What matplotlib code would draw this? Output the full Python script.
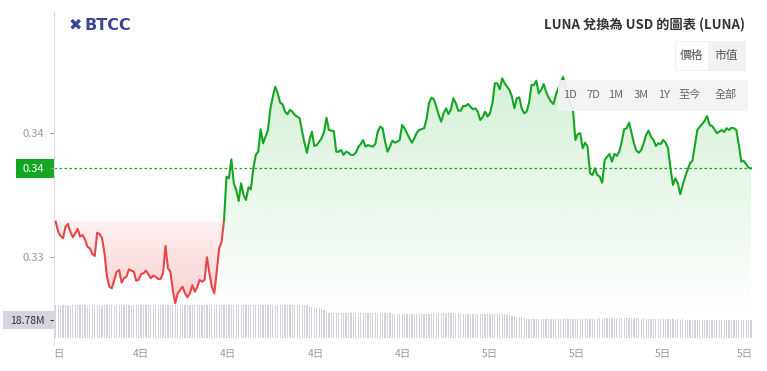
import numpy as np
import matplotlib
matplotlib.use("Agg")
import matplotlib.pyplot as plt
from matplotlib.patches import Rectangle, Polygon
from matplotlib.colors import to_rgb
from matplotlib.transforms import blended_transform_factory

plt.rcParams['font.family'] = ['Noto Sans CJK TC', 'DejaVu Sans']

# price series (USD), oldest first
prices = [
    0.33285, 0.33204, 0.33169, 0.33151, 0.33244, 0.33266, 0.33204, 0.33159, 0.33191, 0.33226,
    0.33164, 0.33177, 0.33143, 0.33083, 0.33070, 0.33024, 0.33008, 0.33196, 0.33185, 0.33151,
    0.33030, 0.32841, 0.32760, 0.32748, 0.32815, 0.32881, 0.32895, 0.32793, 0.32828, 0.32841,
    0.32901, 0.32890, 0.32881, 0.32809, 0.32815, 0.32863, 0.32869, 0.32890, 0.32860, 0.32828,
    0.32849, 0.32841, 0.32823, 0.32823, 0.32869, 0.33089, 0.32909, 0.32881, 0.32734, 0.32627,
    0.32707, 0.32734, 0.32760, 0.32707, 0.32675, 0.32707, 0.32774, 0.32720, 0.32756, 0.32815,
    0.32801, 0.32815, 0.32998, 0.32869, 0.32760, 0.32707, 0.32881, 0.33070, 0.33123,
    0.33298, 0.33648, 0.33635, 0.33788, 0.33594, 0.33540, 0.33452, 0.33594, 0.33500, 0.33460,
    0.33562, 0.33546, 0.33715, 0.33823, 0.33849, 0.34030, 0.33917, 0.33970, 0.34024, 0.34199,
    0.34293, 0.34373, 0.34320, 0.34244, 0.34232, 0.34172, 0.34151, 0.34186, 0.34172, 0.34145,
    0.34132, 0.34119, 0.34011, 0.33917, 0.33841, 0.33944, 0.34011, 0.33895, 0.33903, 0.33930,
    0.33957, 0.34011, 0.34123, 0.34024, 0.34019, 0.34016, 0.33849, 0.33849, 0.33863, 0.33823,
    0.33849, 0.33841, 0.33823, 0.33823, 0.33841, 0.33885, 0.33911, 0.33944, 0.33890, 0.33903,
    0.33895, 0.33890, 0.33911, 0.34011, 0.34051, 0.34038, 0.33930, 0.33849, 0.33890, 0.33938,
    0.33922, 0.33930, 0.33944, 0.34065, 0.34038, 0.33998, 0.33957, 0.33922, 0.33957, 0.34002,
    0.34024, 0.34032, 0.34038, 0.34111, 0.34240, 0.34285, 0.34272, 0.34212, 0.34145, 0.34091,
    0.34159, 0.34199, 0.34153, 0.34191, 0.34280, 0.34240, 0.34180, 0.34180, 0.34218, 0.34218,
    0.34234, 0.34212, 0.34191, 0.34199, 0.34172, 0.34105, 0.34127, 0.34172, 0.34132, 0.34159,
    0.34240, 0.34401, 0.34401, 0.34353, 0.34441, 0.34401, 0.34373, 0.34347, 0.34293, 0.34199,
    0.34280, 0.34288, 0.34199, 0.34159, 0.34172, 0.34240, 0.34387, 0.34387, 0.34422, 0.34320,
    0.34347, 0.34395, 0.34333, 0.34288, 0.34253, 0.34234, 0.34307, 0.34363, 0.34411, 0.34452,
    0.34363, 0.34282, 0.34234, 0.34194, 0.33944, 0.33992, 0.33998, 0.33877, 0.33922, 0.33890,
    0.33675, 0.33661, 0.33715, 0.33661, 0.33648, 0.33599, 0.33782, 0.33809, 0.33831, 0.33769,
    0.33831, 0.33815, 0.33849, 0.33930, 0.34030, 0.34038, 0.34083, 0.34002, 0.33917, 0.33857,
    0.33841, 0.33863, 0.33917, 0.33984, 0.34019, 0.33970, 0.33944, 0.33895, 0.33917, 0.33911,
    0.33944, 0.33922, 0.33877, 0.33715, 0.33581, 0.33635, 0.33594, 0.33506, 0.33581, 0.33648,
    0.33702, 0.33756, 0.33777, 0.33903, 0.34024, 0.34051, 0.34073, 0.34099, 0.34137, 0.34065,
    0.34057, 0.34030, 0.33998, 0.34011, 0.34024, 0.34008, 0.34038, 0.34024, 0.34043, 0.34038,
    0.34024, 0.33903, 0.33769, 0.33777, 0.33748, 0.33720, 0.33715,
]

# volume (millions), one bar per price point
volumes = [
    33.9, 34.0, 33.8, 33.9, 34.0, 33.9, 33.8, 33.9, 34.0, 33.9,
    33.9, 34.0, 33.9, 33.8, 33.9, 34.0, 33.9, 33.9, 34.0, 33.8,
    33.9, 33.9, 34.0, 33.9, 33.8, 33.9, 34.0, 33.9, 33.9, 34.0,
    33.9, 33.8, 33.9, 34.0, 33.9, 33.9, 34.0, 34.1, 34.0, 33.9,
    34.0, 34.1, 34.0, 33.9, 34.0, 34.1, 34.0, 34.0, 34.1, 34.0,
    34.0, 34.1, 34.0, 34.1, 34.0, 34.1, 34.1, 34.0, 34.1, 34.2,
    34.1, 34.2, 34.1, 34.2, 34.2, 34.1, 34.2, 34.3, 34.2, 34.3,
    34.3, 34.4, 34.3, 34.4, 34.5, 34.5, 34.6, 34.5, 34.6, 34.7,
    34.6, 34.7, 34.8, 34.7, 34.8, 34.7, 34.8, 34.9, 34.8, 34.9,
    34.8, 34.9, 34.8, 34.9, 34.8, 34.7, 34.8, 34.7, 34.8, 34.7,
    34.6, 34.7, 34.5, 34.3, 33.6, 32.2, 31.4, 31.2, 30.8, 30.1,
    29.0, 27.3, 26.1, 25.9, 25.8, 25.9, 25.7, 25.8, 25.9, 25.8,
    25.8, 25.7, 25.8, 25.6, 25.7, 25.8, 25.7, 25.6, 25.7, 25.8,
    25.7, 25.6, 25.5, 25.6, 25.7, 25.6, 25.5, 25.6, 25.5, 25.4,
    25.5, 25.4, 25.5, 25.6, 25.5, 25.4, 25.5, 25.4, 25.3, 25.4,
    25.5, 25.4, 25.3, 25.4, 25.5, 25.6, 25.5, 25.6, 25.7, 25.6,
    25.5, 25.6, 25.7, 25.6, 25.5, 25.6, 25.5, 25.4, 25.5, 25.4,
    25.3, 25.4, 25.3, 25.2, 25.3, 25.4, 25.3, 25.2, 25.3, 25.2,
    25.1, 25.2, 25.0, 24.8, 24.6, 24.2, 23.6, 23.0, 22.6, 22.3,
    22.0, 21.5, 20.8, 20.2, 19.8, 19.6, 19.5, 19.6, 19.5, 19.4,
    19.5, 19.6, 19.5, 19.4, 19.5, 19.6, 19.5, 19.4, 19.5, 19.6,
    19.7, 19.6, 19.7, 19.8, 19.9, 20.0, 20.1, 20.2, 20.1, 20.2,
    20.3, 20.2, 20.3, 20.4, 20.3, 20.4, 20.5, 20.4, 20.5, 20.4,
    20.5, 20.4, 20.5, 20.6, 20.5, 20.6, 20.5, 20.4, 20.5, 20.4,
    20.3, 20.4, 20.3, 20.2, 20.3, 20.2, 20.1, 20.0, 19.8, 19.6,
    19.4, 19.3, 19.4, 19.3, 19.2, 19.3, 19.2, 19.3, 19.2, 19.1,
    19.2, 19.1, 19.2, 19.1, 19.0, 19.1, 19.0, 19.1, 19.0, 18.9,
    19.0, 18.9, 19.0, 18.9, 18.8, 18.9, 18.8, 18.9, 18.8, 18.9,
    18.8, 18.9, 18.8, 18.9, 18.8, 18.78,
]

tick_labels = ["日", "4日", "4日", "4日", "4日", "5日", "5日", "5日", "5日"]
title = "LUNA 兌換為 USD 的圖表 (LUNA)"
modes = ["價格", "市值"]
ranges = ["1D", "7D", "1M", "3M", "1Y", "至今", "全部"]

GREEN = "#14a623"
RED = "#e84646"
GREY_TXT = "#9a9a9a"

W, H = 767, 371
fig = plt.figure(figsize=(W / 100, H / 100), dpi=100)
fig.patch.set_facecolor("white")


def box(x0, y0, x1, y1):
    # pixel box (origin top-left) -> figure rect
    return [x0 / W, 1 - y1 / H, (x1 - x0) / W, (y1 - y0) / H]


n = len(prices)
x = np.arange(n)
p = np.array(prices)
base = prices[0]
last = prices[-1]
xlim = (-0.7, n - 1 + 0.4)

# volume panel
axv = fig.add_axes(box(54, 12, 752, 338))
axv.bar(x, volumes, width=0.5, color="#d0d3db", linewidth=0)
axv.set_xlim(*xlim)
axv.set_ylim(0, 340)
for s in axv.spines.values():
    s.set_visible(False)
axv.set_xticks([])
axv.set_yticks([18.78], ["18.78M"])
axv.tick_params(axis="y", length=3, pad=4, color="#333333", labelcolor="#333333", labelsize=7.5)
tv = blended_transform_factory(fig.transFigure, axv.transData)
axv.add_patch(Rectangle((3 / W, 18.78 - 9 * 340 / 326), 51 / W, 18 * 340 / 326,
                        transform=tv, facecolor="#d3d6df", edgecolor="none",
                        clip_on=False, zorder=1))

# price panel
ax = fig.add_axes(box(54, 12, 752, 345))
ax.patch.set_visible(False)
ylim = (0.322903, 0.349758)


def gradient_fill(xs, ys, y_ref, color, a_top, a_bot, y_top, y_bot):
    verts = list(zip(xs, ys)) + [(xs[-1], y_ref), (xs[0], y_ref)]
    poly = Polygon(verts, closed=True, facecolor="none", edgecolor="none")
    ax.add_patch(poly)
    rgba = np.zeros((200, 1, 4))
    rgba[..., :3] = to_rgb(color)
    rgba[:, 0, 3] = np.linspace(a_top, a_bot, 200)
    im = ax.imshow(rgba, aspect="auto", extent=[xs[0], xs[-1], y_bot, y_top],
                   origin="upper", interpolation="bilinear", zorder=1.1)
    im.set_clip_path(poly)


k = next(i for i in range(1, n) if prices[i] >= base)
xr, pr = x[:k + 1], p[:k + 1]
xg, pg = x[k:], p[k:]

gradient_fill(xr, pr, base, RED, 0.08, 0.24, base, p.min())
gradient_fill(xg, pg, 0.3249, "#2fb83c", 0.2, 0.0, p.max(), 0.3249)

ax.plot(xr, pr, color=RED, lw=1.5, solid_joinstyle="round", zorder=3)
ax.plot(xg, pg, color=GREEN, lw=1.5, solid_joinstyle="round", zorder=3)
ax.axhline(last, color=GREEN, lw=0.9, dashes=(2, 2), zorder=2)

ax.set_xlim(*xlim)
ax.set_ylim(*ylim)
for name in ("top", "right", "bottom"):
    ax.spines[name].set_visible(False)
ax.spines["left"].set_color("#dcdcdc")
ax.spines["left"].set_linewidth(0.8)

ax.set_yticks([0.33, last, 0.34], ["0.33", "0.34", "0.34"])
ax.tick_params(axis="y", length=3, pad=4, color=GREY_TXT, labelcolor=GREY_TXT, labelsize=8)
cur = ax.yaxis.get_major_ticks()[1]
cur.label1.set_color("white")
cur.tick1line.set_color("white")
tp = blended_transform_factory(fig.transFigure, ax.transData)
h = 19 * (ylim[1] - ylim[0]) / 333
ax.add_patch(Rectangle((16 / W, last - h / 2), 38 / W, h, transform=tp,
                       facecolor=GREEN, edgecolor="none", clip_on=False, zorder=1))

tick_pos = [0.9, 35.0, 70.6, 106.7, 142.3, 178.0, 213.6, 248.9, 282.5]
ax.set_xticks(tick_pos, tick_labels)
ax.tick_params(axis="x", length=0, pad=3, labelcolor=GREY_TXT, labelsize=7.5)

# logo
fig.text(75 / W, 1 - 25 / H, "✖", fontsize=11.5, color="#3c4596", ha="center", va="center",
         family="DejaVu Sans")
fig.text(84 / W, 1 - 25 / H, "BTCC", fontsize=11.5, weight="bold", color="#3c4596",
         ha="left", va="center", family="DejaVu Sans")

# watermark
fig.text(626 / W, 1 - 284 / H, "✖", fontsize=21, color="#d9dce6", ha="center", va="center",
         family="DejaVu Sans", zorder=-1)
fig.text(646 / W, 1 - 284 / H, "BTCC", fontsize=20, weight="bold", color="#d9dce6",
         ha="left", va="center", family="DejaVu Sans", zorder=-1)

fig.text(745 / W, 1 - 25 / H, title, fontsize=9.5, weight="bold", color="#333333",
         ha="right", va="center")

# mode switch
fig.add_artist(Rectangle((675 / W, 1 - 70 / H), 70 / W, 29 / H, transform=fig.transFigure,
                         facecolor="white", edgecolor="#eeeeee", lw=0.6, zorder=5))
fig.add_artist(Rectangle((708 / W, 1 - 70 / H), 37 / W, 29 / H, transform=fig.transFigure,
                         facecolor="#f2f2f4", edgecolor="none", zorder=5))
for label, px in zip(modes, [692, 726]):
    fig.text(px / W, 1 - 55 / H, label, fontsize=8.5, color="#555555", ha="center",
             va="center", zorder=6)

# range buttons
fig.add_artist(Rectangle((558 / W, 1 - 111 / H), 190 / W, 31 / H, transform=fig.transFigure,
                         facecolor="#f4f4f5", edgecolor="none", alpha=0.92, zorder=5))
for label, px in zip(ranges, [570, 593, 616, 641, 664, 690, 726]):
    fig.text(px / W, 1 - 95 / H, label, fontsize=8, color="#666666", ha="center",
             va="center", zorder=6)

fig.savefig("out.png", dpi=100)
